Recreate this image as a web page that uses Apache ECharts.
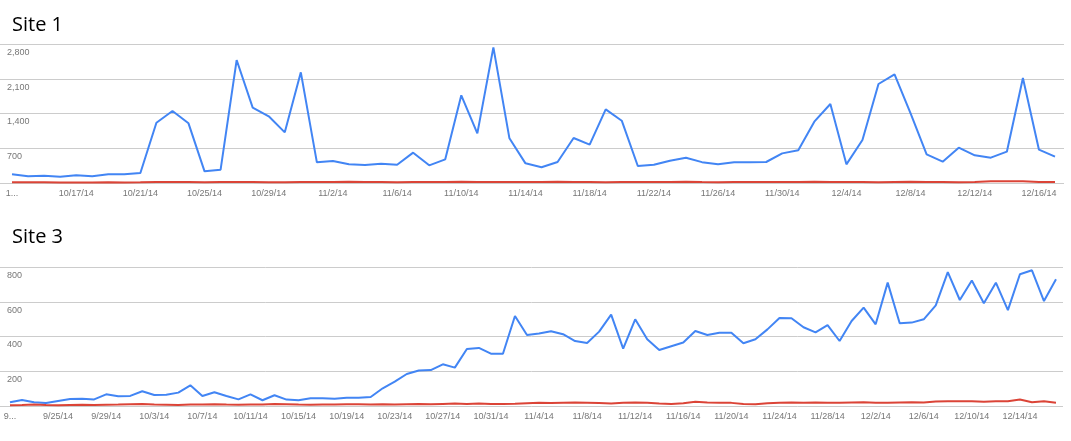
<!DOCTYPE html>
<html><head><meta charset="utf-8">
<script src="https://cdn.jsdelivr.net/npm/echarts@6/dist/echarts.min.js"></script>
<style>html,body{margin:0;padding:0;background:#fff}#c{width:1071px;height:441px}</style>
</head><body><div id="c"></div>
<script>
// ---------- Site 1 ----------
const site1Dates = [
 '10/13/14','10/14/14','10/15/14','10/16/14','10/17/14','10/18/14','10/19/14','10/20/14','10/21/14','10/22/14',
 '10/23/14','10/24/14','10/25/14','10/26/14','10/27/14','10/28/14','10/29/14','10/30/14','10/31/14','11/1/14',
 '11/2/14','11/3/14','11/4/14','11/5/14','11/6/14','11/7/14','11/8/14','11/9/14','11/10/14','11/11/14',
 '11/12/14','11/13/14','11/14/14','11/15/14','11/16/14','11/17/14','11/18/14','11/19/14','11/20/14','11/21/14',
 '11/22/14','11/23/14','11/24/14','11/25/14','11/26/14','11/27/14','11/28/14','11/29/14','11/30/14','12/1/14',
 '12/2/14','12/3/14','12/4/14','12/5/14','12/6/14','12/7/14','12/8/14','12/9/14','12/10/14','12/11/14',
 '12/12/14','12/13/14','12/14/14','12/15/14','12/16/14','12/17/14'];
const site1Blue = [
 175,135,147,127,155,135,175,175,201,1215,
 1450,1202,235,268,2477,1517,1343,1020,2229,416,
 443,376,362,389,369,611,356,477,1766,1000,
 2733,900,396,316,423,906,772,1484,1255,342,
 369,450,510,420,376,416,416,423,597,658,
 1235,1591,376,866,1994,2189,1403,577,430,711,
 557,510,631,2115,671,530];
const site1Red = [
 14,14,16,12,10,12,14,12,14,18,
 20,22,16,18,20,18,16,14,20,18,
 22,24,20,18,16,18,20,22,24,22,
 20,18,20,22,26,20,18,16,18,20,
 18,22,26,20,16,18,18,20,22,22,
 26,18,20,18,16,22,24,20,18,16,
 20,34,36,34,22,18];
const site1Ticks = [0,700,1400,2100,2800];

// ---------- Site 3 ----------
const site3Dates = [
 '9/21/14','9/22/14','9/23/14','9/24/14','9/25/14','9/26/14','9/27/14','9/28/14','9/29/14','9/30/14',
 '10/1/14','10/2/14','10/3/14','10/4/14','10/5/14','10/6/14','10/7/14','10/8/14','10/9/14','10/10/14',
 '10/11/14','10/12/14','10/13/14','10/14/14','10/15/14','10/16/14','10/17/14','10/18/14','10/19/14','10/20/14',
 '10/21/14','10/22/14','10/23/14','10/24/14','10/25/14','10/26/14','10/27/14','10/28/14','10/29/14','10/30/14',
 '10/31/14','11/1/14','11/2/14','11/3/14','11/4/14','11/5/14','11/6/14','11/7/14','11/8/14','11/9/14',
 '11/10/14','11/11/14','11/12/14','11/13/14','11/14/14','11/15/14','11/16/14','11/17/14','11/18/14','11/19/14',
 '11/20/14','11/21/14','11/22/14','11/23/14','11/24/14','11/25/14','11/26/14','11/27/14','11/28/14','11/29/14',
 '11/30/14','12/1/14','12/2/14','12/3/14','12/4/14','12/5/14','12/6/14','12/7/14','12/8/14','12/9/14',
 '12/10/14','12/11/14','12/12/14','12/13/14','12/14/14','12/15/14','12/16/14','12/17/14'];
const site3Blue = [
 21,35,21,17,29,40,42,38,67,56,
 58,85,63,65,77,119,58,79,58,38,
 67,33,62,37,33,44,44,42,48,48,
 52,102,140,184,204,207,240,221,328,334,
 301,301,518,409,417,430,413,374,363,428,
 526,330,499,384,322,344,365,432,
 409,422,422,361,384,441,507,505,453,424,
 466,374,489,566,470,710,476,480,499,579,
 771,610,722,591,710,552,758,781,604,729];
const site3Red = [
 5,6,8,6,5,6,7,6,7,8,
 10,12,8,7,6,8,9,10,8,7,
 8,9,12,10,8,7,8,9,10,10,
 9,10,9,10,11,10,12,14,12,15,
 12,11,13,16,18,17,19,20,19,17,
 15,18,20,19,14,12,16,24,
 20,18,18,12,10,16,18,20,18,20,
 19,18,20,22,18,19,20,21,20,26,
 28,28,27,25,27,28,37,22,27,19];
const site3Ticks = [0,200,400,600,800];

const BLUE = '#4285f4', RED = '#db4437';
const labelColor = '#777';
const labelFont = 'Liberation Sans, Arial, sans-serif';

function addCommas(v){ return String(v).replace(/\B(?=(\d{3})+(?!\d))/g, ','); }
function xFmt(v, i){ return i === 0 ? v.charAt(0) + '...' : v; }

function lineGridAxes(gi, ticks){
  const max = ticks[ticks.length-1], step = ticks[1]-ticks[0];
  return {
    x: {gridIndex: gi, type: 'value', show: false},
    y: {gridIndex: gi, type: 'value', min: 0, max: max, interval: step,
        axisLine:{show:false}, axisTick:{show:false},
        splitLine:{show:true, lineStyle:{color:'#cccccc', width:1}},
        axisLabel:{inside:true, margin:7, verticalAlign:'top', padding:[4,0,0,0],
          showMinLabel:false, color:labelColor, fontSize:9, fontFamily:labelFont,
          formatter: v => addCommas(v)}}
  };
}
function dataGridAxes(gi, dates, ticks, margin){
  return {
    x: {gridIndex: gi, type:'category', data: dates, boundaryGap:false,
        axisLine:{show:false}, axisTick:{show:false}, splitLine:{show:false},
        axisLabel:{interval:3, margin: margin, color:labelColor, fontSize:9, fontFamily:labelFont, formatter: xFmt}},
    y: {gridIndex: gi, type:'value', min:0, max: ticks[ticks.length-1], show:false}
  };
}
const a0 = lineGridAxes(0, site1Ticks), b0 = dataGridAxes(1, site1Dates, site1Ticks, 6);
const a1 = lineGridAxes(2, site3Ticks), b1 = dataGridAxes(3, site3Dates, site3Ticks, 6);

function line(gi, data, color){
  return {type:'line', xAxisIndex: gi, yAxisIndex: gi, data: data, symbol:'none',
    lineStyle:{color: color, width:2}, itemStyle:{color: color}, animation:false, z: 3};
}

const titleStyle = {fontFamily:'Open Sans', fontSize:20, fontWeight:'normal', color:'#000'};
const chart = echarts.init(document.getElementById('c'), null, {renderer:'canvas'});
chart.setOption({
  animation: false,
  backgroundColor: '#fff',
  title: [
    {text:'Site 1', left: 12, top: 15, padding: 0, textStyle: titleStyle},
    {text:'Site 3', left: 12, top: 227, padding: 0, textStyle: titleStyle}
  ],
  grid: [
    {left:0, right:7, top:44, height:139},
    {left:12, right:16, top:44, height:139},
    {left:0, right:8, top:267, height:139},
    {left:10, right:15, top:267, height:139}
  ],
  xAxis: [a0.x, b0.x, a1.x, b1.x],
  yAxis: [a0.y, b0.y, a1.y, b1.y],
  series: [
    line(1, site1Blue, BLUE), line(1, site1Red, RED),
    line(3, site3Blue, BLUE), line(3, site3Red, RED)
  ]
});
</script></body></html>
